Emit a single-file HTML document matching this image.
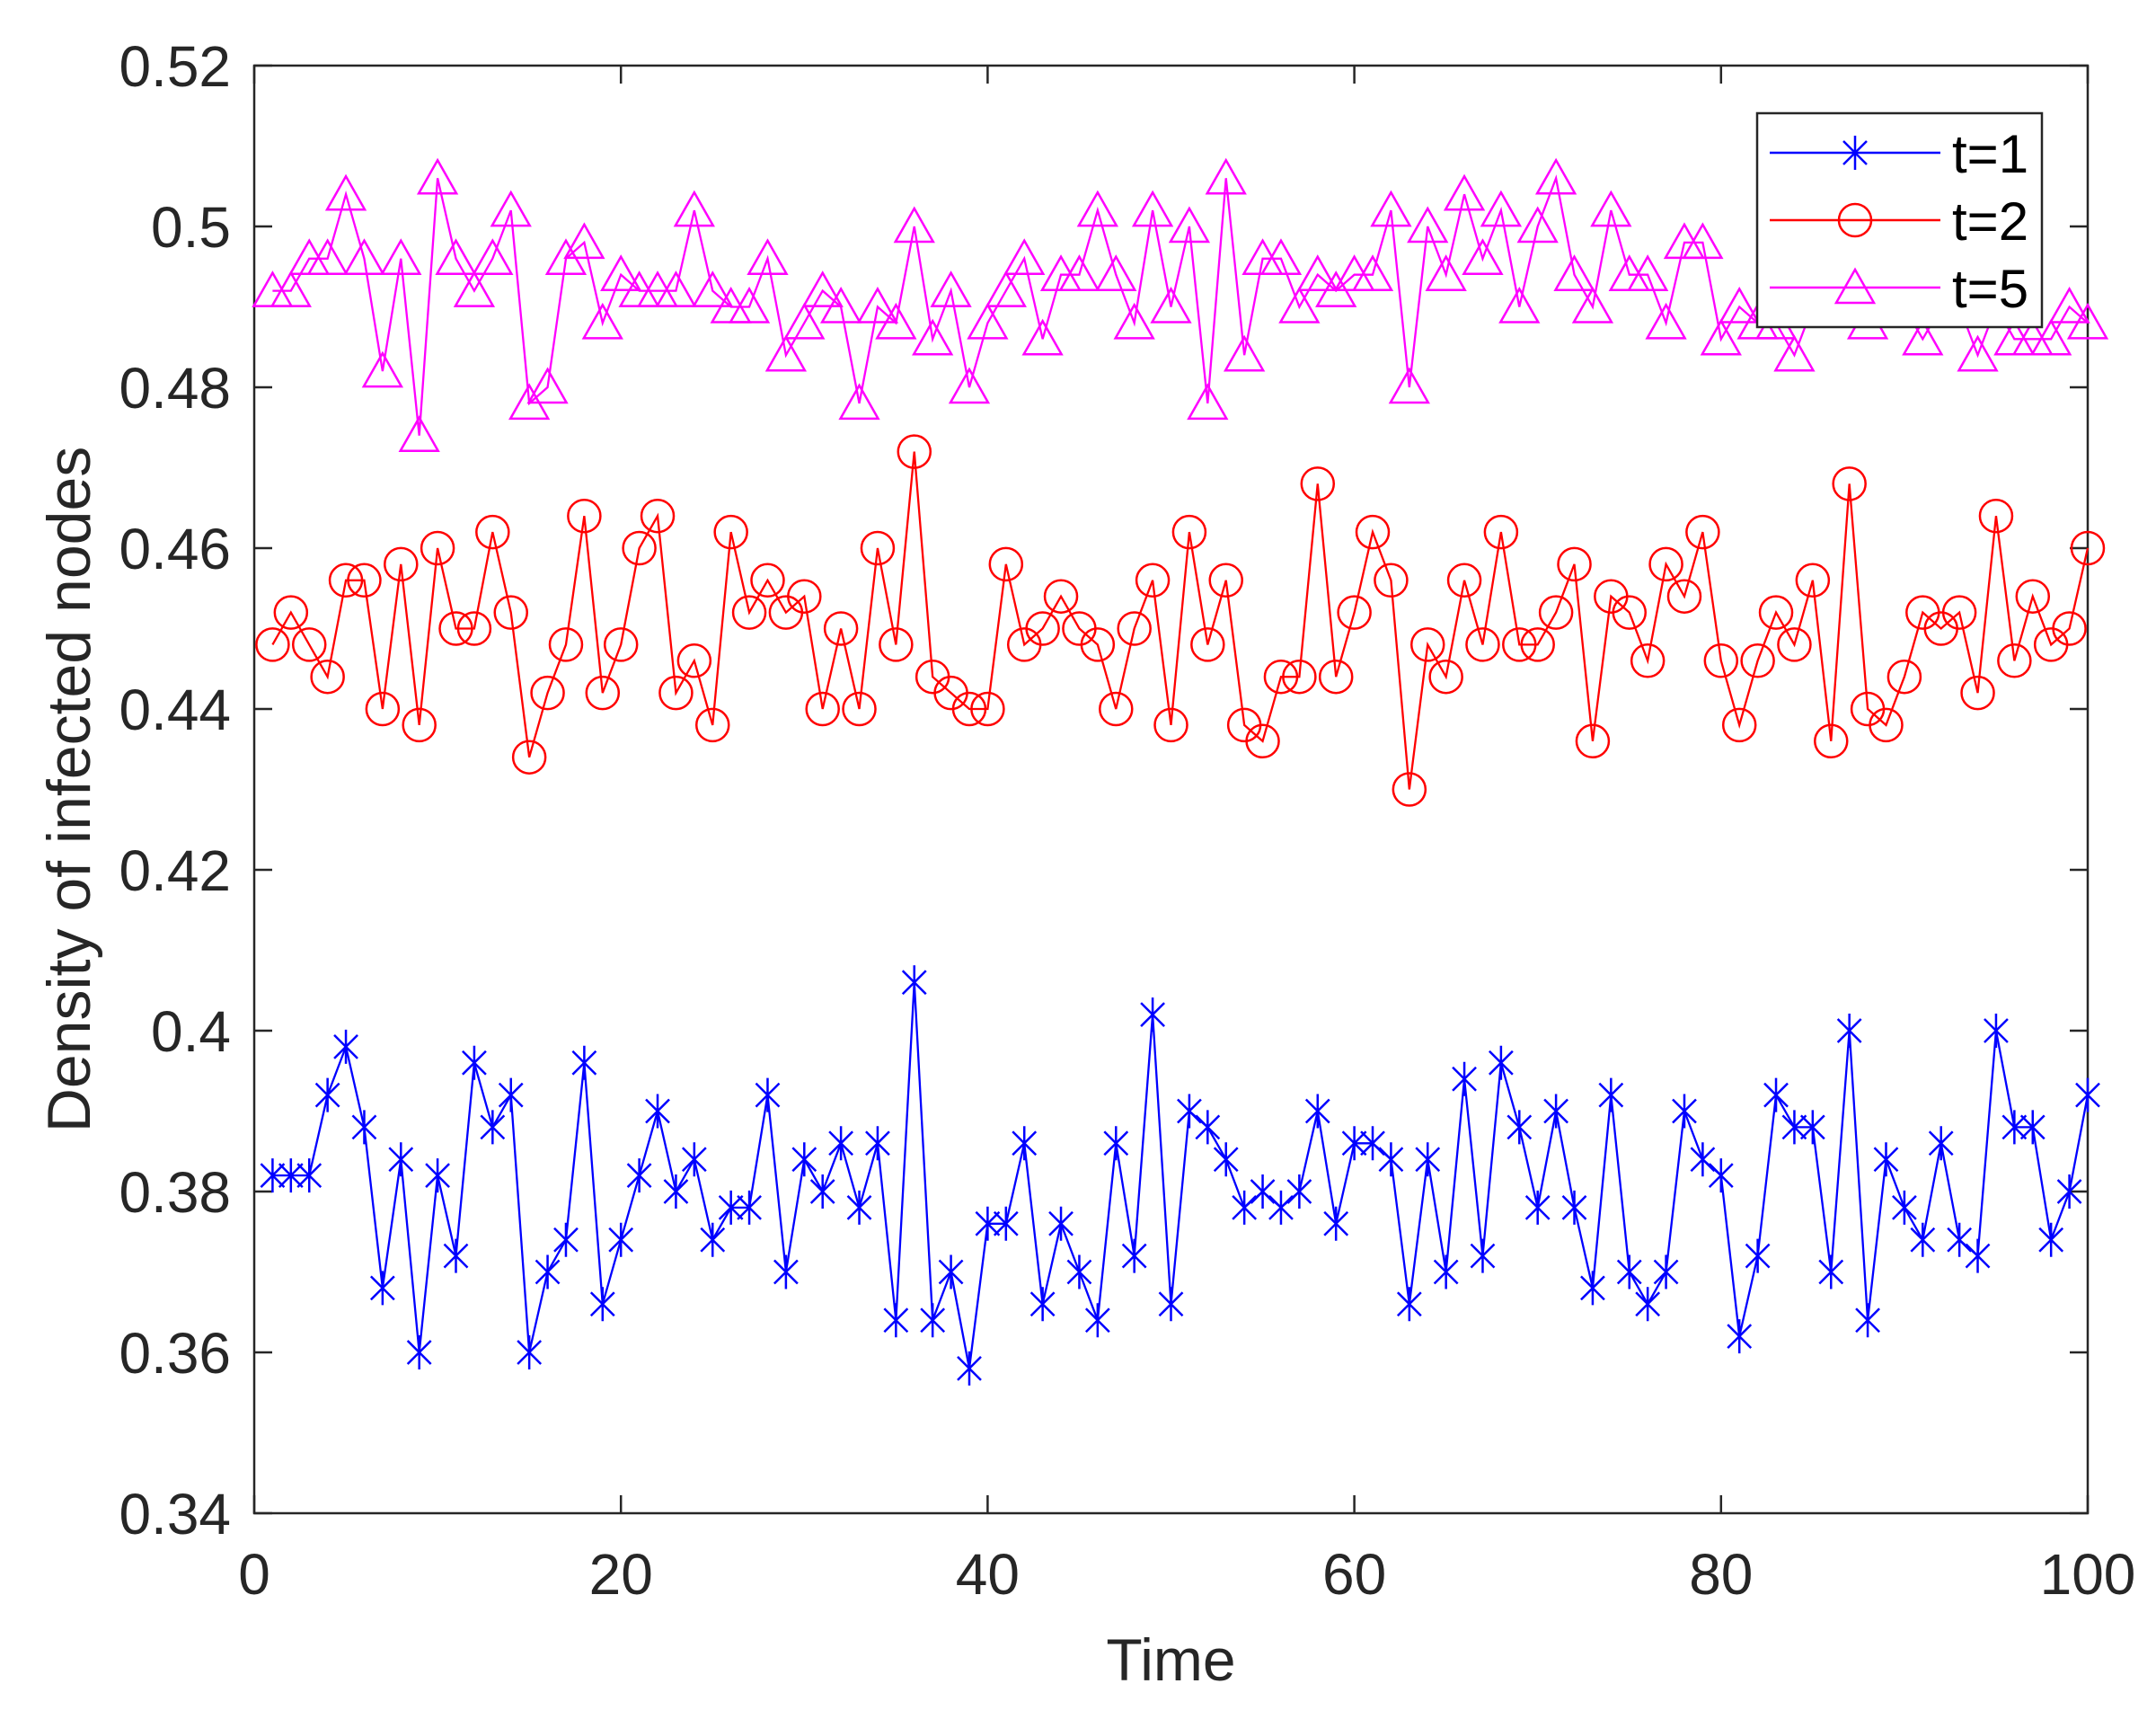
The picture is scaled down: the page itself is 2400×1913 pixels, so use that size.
<!DOCTYPE html>
<html><head><meta charset="utf-8"><style>
html,body{margin:0;padding:0;background:#fff;}
svg{display:block;font-family:"Liberation Sans",Arial,sans-serif;}
</style></head><body>
<svg id="chart" width="2400" height="1913" viewBox="0 0 2400 1913" xmlns="http://www.w3.org/2000/svg"></svg>
<script>
const xTicks=[0,20,40,60,80,100];
const yTicks=[0.34,0.36,0.38,0.4,0.42,0.44,0.46,0.48,0.5,0.52];
const yTickLabels=["0.34","0.36","0.38","0.4","0.42","0.44","0.46","0.48","0.5","0.52"];
const seriesT1=[0.382,0.382,0.382,0.392,0.398,0.388,0.368,0.384,0.360,0.382,0.372,0.396,0.388,0.392,0.360,0.370,0.374,0.396,0.366,0.374,0.382,0.390,0.380,0.384,0.374,0.378,0.378,0.392,0.370,0.384,0.380,0.386,0.378,0.386,0.364,0.406,0.364,0.370,0.358,0.376,0.376,0.386,0.366,0.376,0.370,0.364,0.386,0.372,0.402,0.366,0.390,0.388,0.384,0.378,0.380,0.378,0.380,0.390,0.376,0.386,0.386,0.384,0.366,0.384,0.370,0.394,0.372,0.396,0.388,0.378,0.390,0.378,0.368,0.392,0.370,0.366,0.370,0.390,0.384,0.382,0.362,0.372,0.392,0.388,0.388,0.370,0.400,0.364,0.384,0.378,0.374,0.386,0.374,0.372,0.400,0.388,0.388,0.374,0.380,0.392];
const seriesT2=[0.448,0.452,0.448,0.444,0.456,0.456,0.440,0.458,0.438,0.460,0.450,0.450,0.462,0.452,0.434,0.442,0.448,0.464,0.442,0.448,0.460,0.464,0.442,0.446,0.438,0.462,0.452,0.456,0.452,0.454,0.440,0.450,0.440,0.460,0.448,0.472,0.444,0.442,0.440,0.440,0.458,0.448,0.450,0.454,0.450,0.448,0.440,0.450,0.456,0.438,0.462,0.448,0.456,0.438,0.436,0.444,0.444,0.468,0.444,0.452,0.462,0.456,0.430,0.448,0.444,0.456,0.448,0.462,0.448,0.448,0.452,0.458,0.436,0.454,0.452,0.446,0.458,0.454,0.462,0.446,0.438,0.446,0.452,0.448,0.456,0.436,0.468,0.440,0.438,0.444,0.452,0.450,0.452,0.442,0.464,0.446,0.454,0.448,0.450,0.460];
const seriesT5=[0.492,0.492,0.496,0.496,0.504,0.496,0.482,0.496,0.474,0.506,0.496,0.492,0.496,0.502,0.478,0.480,0.496,0.498,0.488,0.494,0.492,0.492,0.492,0.502,0.492,0.490,0.490,0.496,0.484,0.488,0.492,0.490,0.478,0.490,0.488,0.500,0.486,0.492,0.480,0.488,0.492,0.496,0.486,0.494,0.494,0.502,0.494,0.488,0.502,0.490,0.500,0.478,0.506,0.484,0.496,0.496,0.490,0.494,0.492,0.494,0.494,0.502,0.480,0.500,0.494,0.504,0.496,0.502,0.490,0.500,0.506,0.494,0.490,0.502,0.494,0.494,0.488,0.498,0.498,0.486,0.490,0.488,0.488,0.484,0.490,0.490,0.492,0.488,0.492,0.490,0.486,0.490,0.490,0.484,0.490,0.486,0.486,0.486,0.490,0.488];

const L=283,R=2324,T=73,B=1684;
const sx=v=>L+(v-0)/(100-0)*(R-L);
const sy=v=>B-(v-0.34)/(0.52-0.34)*(B-T);
const svg=document.getElementById('chart');
const NS='http://www.w3.org/2000/svg';
function mk(tag,attrs,parent){const e=document.createElementNS(NS,tag);for(const k in attrs)e.setAttribute(k,attrs[k]);(parent||svg).appendChild(e);return e;}

const box=mk('rect',{x:L,y:T,width:R-L,height:B-T,fill:'#fff',stroke:'#262626','stroke-width':2.5});



const xg=mk('g',{});


xTicks.forEach(v=>{
  const x=sx(v);
  mk('line',{x1:x,y1:B,x2:x,y2:B-20,stroke:'#262626','stroke-width':2.5},xg);
  mk('line',{x1:x,y1:T,x2:x,y2:T+20,stroke:'#262626','stroke-width':2.5},xg);
  const t=mk('text',{x:x,y:B+90,'font-size':64,'text-anchor':'middle',fill:'#262626'},xg);
  t.textContent=String(v);
  
  
});
const yg=mk('g',{});


yTicks.forEach((v,i)=>{
  const y=sy(v);
  mk('line',{x1:L,y1:y,x2:L+20,y2:y,stroke:'#262626','stroke-width':2.5},yg);
  mk('line',{x1:R,y1:y,x2:R-20,y2:y,stroke:'#262626','stroke-width':2.5},yg);
  const t=mk('text',{x:L-26,y:y+23,'font-size':64,'text-anchor':'end',fill:'#262626'},yg);
  t.textContent=yTickLabels[i];
  
  
});
const xt=mk('text',{x:(L+R)/2,y:1870,'font-size':66,'text-anchor':'middle',fill:'#262626'});
xt.textContent='Time';


const yt=mk('text',{x:0,y:0,'font-size':68,'text-anchor':'middle',fill:'#262626',transform:`translate(100,${(T+B)/2}) rotate(-90)`});
yt.textContent='Density of infected nodes';



function marker(kind,x,y,color,g){
  if(kind==='star'){
    const s=19,d=13;
    mk('path',{d:`M${x} ${y-s}V${y+s}M${x-d} ${y-d}L${x+d} ${y+d}M${x-d} ${y+d}L${x+d} ${y-d}`,stroke:color,'stroke-width':2.5,fill:'none'},g);
  }else if(kind==='circle'){
    mk('circle',{cx:x,cy:y,r:18,stroke:color,'stroke-width':2.5,fill:'none'},g);
  }else{
    mk('path',{d:`M${x} ${y-20}L${x+21} ${y+17}L${x-21} ${y+17}Z`,stroke:color,'stroke-width':2.5,fill:'none'},g);
  }
}
function drawSeries(vals,color,kind,name){
  const g=mk('g',{});
  
  
  const pts=vals.map((v,i)=>[sx(i+1),sy(v)]);
  mk('polyline',{points:pts.map(p=>p.join(',')).join(' '),fill:'none',stroke:color,'stroke-width':2.3},g);
  pts.forEach(p=>marker(kind,p[0],p[1],color,g));
}
drawSeries(seriesT1,'#0000ff','star','series-t1');
drawSeries(seriesT2,'#ff0000','circle','series-t2');
drawSeries(seriesT5,'#ff00ff','tri','series-t5');

const lg=mk('g',{});


mk('rect',{x:1956,y:126,width:317,height:238,fill:'#fff',stroke:'#262626','stroke-width':2.5},lg);
[['t=1','#0000ff','star',170],['t=2','#ff0000','circle',245],['t=5','#ff00ff','tri',320]].forEach(e=>{
  const eg=mk('g',{},lg);
  
  
  mk('line',{x1:1970,y1:e[3],x2:2160,y2:e[3],stroke:e[1],'stroke-width':2.5},eg);
  marker(e[2],2065,e[3],e[1],eg);
  const t=mk('text',{x:2173,y:e[3]+22,'font-size':60,fill:'#000'},eg);
  t.textContent=e[0];
});
</script>
</body></html>
